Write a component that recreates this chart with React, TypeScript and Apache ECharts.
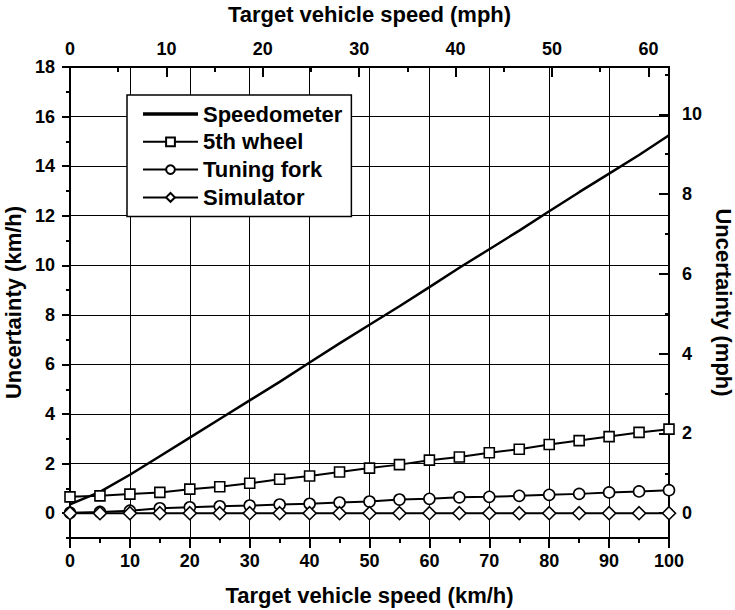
import React, { useEffect, useRef } from 'react';
import * as echarts from 'echarts';

// ---- data ----
const speedKmh = [0, 5, 10, 15, 20, 25, 30, 35, 40, 45, 50, 55, 60, 65, 70, 75, 80, 85, 90, 95, 100];
const speedometer = [0.36, 0.86, 1.55, 2.3, 3.05, 3.8, 4.55, 5.3, 6.08, 6.85, 7.6, 8.35, 9.12, 9.9, 10.65, 11.4, 12.18, 12.95, 13.7, 14.45, 15.25];
const fifthWheel = [0.66, 0.7, 0.77, 0.84, 0.97, 1.07, 1.21, 1.37, 1.5, 1.66, 1.82, 1.96, 2.14, 2.27, 2.44, 2.58, 2.77, 2.93, 3.09, 3.26, 3.39];
const tuningFork = [0.02, 0.05, 0.1, 0.2, 0.24, 0.28, 0.31, 0.35, 0.38, 0.43, 0.47, 0.55, 0.58, 0.64, 0.66, 0.7, 0.74, 0.78, 0.84, 0.88, 0.93];
const simulator = [0, 0, 0, 0, 0, 0, 0, 0, 0, 0, 0, 0, 0, 0, 0, 0, 0, 0, 0, 0, 0];

const seriesNames = ['Speedometer', '5th wheel', 'Tuning fork', 'Simulator'];

const leftLabels = [0, 2, 4, 6, 8, 10, 12, 14, 16, 18];
const leftMinorTicks = [-1, 1, 3, 5, 7, 9, 11, 13, 15, 17];
const rightLabels = [0, 2, 4, 6, 8, 10];
const rightMinorTicks = [1, 3, 5, 7, 9, 11];
const topLabels = [0, 10, 20, 30, 40, 50, 60];
const topMinorTicks = [5, 15, 25, 35, 45, 55];

const KMH_PER_MPH = 1.609344;
const xMin = 0;
const xMax = 100;
const yMin = -1;
const yMax = 18;

const FONT = '"Liberation Sans", Arial, Helvetica, sans-serif';
const BLACK = '#000';

const pairs = (ys: number[]) => speedKmh.map((x, i) => [x, ys[i]]);

export default function App() {
  const ref = useRef<HTMLDivElement>(null);

  useEffect(() => {
    document.body.style.margin = '0';
    if (!ref.current) return;
    const chart = echarts.init(ref.current, null, { renderer: 'svg' });

    const tickLabel = { fontSize: 18, fontWeight: 'bold', color: BLACK, fontFamily: FONT };
    const nameStyle = { fontSize: 22, fontWeight: 'bold', color: BLACK, fontFamily: FONT };
    const axisLine = { show: true, onZero: false, lineStyle: { color: BLACK, width: 2 } };
    const tickLine = { color: BLACK, width: 2 };

    const option: any = {
      animation: false,
      backgroundColor: '#fff',
      textStyle: { fontFamily: FONT, color: BLACK },
      grid: { left: 70, right: 66, top: 67, bottom: 72, containLabel: false, outerBoundsMode: 'none' },
      legend: {
        orient: 'vertical',
        left: 127,
        top: 95,
        padding: [8, 9, 8, 15],
        itemWidth: 55,
        itemHeight: 11,
        itemGap: 5.8,
        backgroundColor: '#fff',
        borderColor: BLACK,
        borderWidth: 1.5,
        borderRadius: 0,
        textStyle: { fontSize: 22, fontWeight: 'bold', color: BLACK, fontFamily: FONT },
        data: [
          { name: seriesNames[0], icon: 'path://M0,0L55,0L55,3.5L0,3.5Z' },
          { name: seriesNames[1] },
          { name: seriesNames[2] },
          { name: seriesNames[3] },
        ],
      },
      xAxis: [
        {
          type: 'value',
          position: 'bottom',
          min: xMin,
          max: xMax,
          interval: 10,
          name: 'Target vehicle speed (km/h)',
          nameLocation: 'middle',
          nameGap: 46,
          nameTextStyle: nameStyle,
          axisLine,
          axisTick: { show: true, inside: false, length: 10, lineStyle: tickLine },
          minorTick: { show: true, splitNumber: 2, length: 5, lineStyle: tickLine },
          axisLabel: { ...tickLabel, margin: 14 },
          splitLine: { show: true, lineStyle: { color: BLACK, width: 1 } },
        },
        {
          type: 'value',
          position: 'top',
          min: xMin / KMH_PER_MPH,
          max: xMax / KMH_PER_MPH,
          name: 'Target vehicle speed (mph)',
          nameLocation: 'middle',
          nameGap: 42,
          nameTextStyle: nameStyle,
          axisLine,
          axisTick: { show: true, inside: true, length: 10, customValues: topLabels, lineStyle: tickLine },
          axisLabel: { ...tickLabel, margin: 9, customValues: topLabels },
          splitLine: { show: false },
        },
        {
          type: 'value',
          position: 'top',
          min: xMin / KMH_PER_MPH,
          max: xMax / KMH_PER_MPH,
          axisLine: { show: false, onZero: false },
          axisTick: { show: true, inside: true, length: 5, customValues: topMinorTicks, lineStyle: tickLine },
          axisLabel: { show: false },
          splitLine: { show: false },
        },
      ],
      yAxis: [
        {
          type: 'value',
          position: 'left',
          min: yMin,
          max: yMax,
          name: 'Uncertainty (km/h)',
          nameLocation: 'middle',
          nameGap: 46,
          nameRotate: 90,
          nameTextStyle: nameStyle,
          axisLine,
          axisTick: { show: true, inside: false, length: 8, customValues: leftLabels, lineStyle: tickLine },
          axisLabel: { ...tickLabel, margin: 15, customValues: leftLabels },
          splitLine: { show: true, lineStyle: { color: BLACK, width: 1 } },
        },
        {
          type: 'value',
          position: 'left',
          min: yMin,
          max: yMax,
          axisLine: { show: false, onZero: false },
          axisTick: { show: true, inside: false, length: 4, customValues: leftMinorTicks, lineStyle: tickLine },
          axisLabel: { show: false },
          splitLine: { show: false },
        },
        {
          type: 'value',
          position: 'right',
          min: yMin / KMH_PER_MPH,
          max: yMax / KMH_PER_MPH,
          name: 'Uncertainty (mph)',
          nameLocation: 'middle',
          nameGap: 42,
          nameRotate: -90,
          nameTextStyle: nameStyle,
          axisLine,
          axisTick: { show: true, inside: true, length: 10, customValues: rightLabels, lineStyle: tickLine },
          axisLabel: { ...tickLabel, margin: 13, customValues: rightLabels },
          splitLine: { show: false },
        },
        {
          type: 'value',
          position: 'right',
          min: yMin / KMH_PER_MPH,
          max: yMax / KMH_PER_MPH,
          axisLine: { show: false, onZero: false },
          axisTick: { show: true, inside: true, length: 4, customValues: rightMinorTicks, lineStyle: tickLine },
          axisLabel: { show: false },
          splitLine: { show: false },
        },
      ],
      series: [
        {
          name: seriesNames[0],
          type: 'line',
          data: pairs(speedometer),
          symbol: 'none',
          lineStyle: { color: BLACK, width: 2.5 },
          itemStyle: { color: BLACK },
          z: 3,
        },
        {
          name: seriesNames[1],
          type: 'line',
          data: pairs(fifthWheel),
          symbol: 'rect',
          symbolSize: 10,
          showSymbol: true,
          showAllSymbol: true,
          lineStyle: { color: BLACK, width: 2 },
          itemStyle: { color: '#fff', borderColor: BLACK, borderWidth: 1.6 },
          z: 4,
        },
        {
          name: seriesNames[2],
          type: 'line',
          data: pairs(tuningFork),
          symbol: 'circle',
          symbolSize: 11,
          showSymbol: true,
          showAllSymbol: true,
          lineStyle: { color: BLACK, width: 2 },
          itemStyle: { color: '#fff', borderColor: BLACK, borderWidth: 1.6 },
          z: 5,
        },
        {
          name: seriesNames[3],
          type: 'line',
          data: pairs(simulator),
          symbol: 'diamond',
          symbolSize: 13,
          showSymbol: true,
          showAllSymbol: true,
          lineStyle: { color: BLACK, width: 2 },
          itemStyle: { color: '#fff', borderColor: BLACK, borderWidth: 1.6 },
          z: 6,
        },
      ],
    };

    chart.setOption(option);
    return () => chart.dispose();
  }, []);

  return <div ref={ref} style={{ width: 735, height: 610 }} />;
}
